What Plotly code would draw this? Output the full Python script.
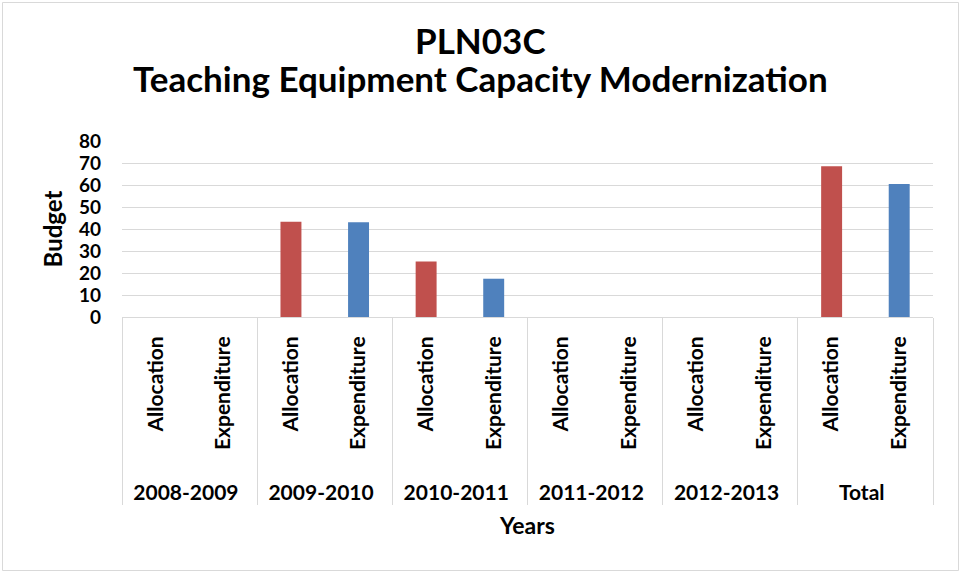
import plotly.graph_objects as go

# Budget figures per fiscal year (millions), with the running total
years = ["2008-2009", "2009-2010", "2010-2011", "2011-2012", "2012-2013", "Total"]
allocation = [0, 43.3, 25.2, 0, 0, 68.5]
expenditure = [0, 43.1, 17.4, 0, 0, 60.5]
y_ticks = [0, 10, 20, 30, 40, 50, 60, 70, 80]
title_lines = ["PLN03C", "Teaching Equipment Capacity Modernization"]

RED = "#C0504D"
BLUE = "#4F81BD"
GRID = "#D9D9D9"
FONT = "Lato"

# Plot-area geometry in pixels
W, H = 961, 574
ML, MR, MT, MB = 122, 28, 141, 257
PW, PH = W - ML - MR, H - MT - MB


def px_x(p):
    return (p - ML) / PW


def px_y(p):
    return (MT + PH - p) / PH


def bold(s):
    return f"<b>{s}</b>"


# rotated series labels get a little non-breaking padding at their lower end,
# which leaves a gap above the year row
PAD = "\u00a0" * 4
year_labels = [bold(y) for y in years]
alloc_label = bold(PAD + "Allocation")
exp_label = bold(PAD + "Expenditure")

fig = go.Figure()
fig.add_trace(go.Bar(
    x=[year_labels, [alloc_label] * len(years)],
    y=allocation,
    name="Allocation",
    marker=dict(color=RED, line=dict(width=0)),
    width=0.31,
))
fig.add_trace(go.Bar(
    x=[year_labels, [exp_label] * len(years)],
    y=expenditure,
    name="Expenditure",
    marker=dict(color=BLUE, line=dict(width=0)),
    width=0.31,
))

# thin frame around the whole chart
fig.add_shape(type="rect", xref="paper", yref="paper",
              x0=px_x(2.5), x1=px_x(958.5), y0=px_y(570.5), y1=px_y(2.5),
              line=dict(color=GRID, width=1), layer="below")

# two-line chart title
for text, yc in zip(title_lines, [40, 78]):
    fig.add_annotation(
        text=bold(text), xref="paper", yref="paper",
        x=px_x(W / 2), y=px_y(yc), xanchor="center", yanchor="middle",
        showarrow=False, font=dict(family=FONT, size=35, color="black"),
    )

fig.update_layout(
    width=W, height=H,
    margin=dict(l=ML, r=MR, t=MT, b=MB),
    paper_bgcolor="white", plot_bgcolor="white",
    barmode="overlay",
    showlegend=False,
    font=dict(family=FONT, color="black"),
    xaxis=dict(
        type="multicategory",
        tickangle=-90,
        tickfont=dict(family=FONT, size=21, color="black", weight="bold"),
        ticklabelstandoff=10,
        showdividers=True, dividercolor=GRID, dividerwidth=1,
        showline=True, linecolor=GRID, linewidth=1,
        showgrid=False, ticks="",
        title=dict(text="<b>Years</b>", font=dict(family=FONT, size=23, color="black"), standoff=14),
    ),
    yaxis=dict(
        range=[0, 80], tickvals=y_ticks,
        showgrid=True, gridcolor=GRID, gridwidth=1,
        zeroline=False, showline=False, ticks="",
        tickfont=dict(family=FONT, size=19, color="black", weight="bold"),
        ticklabelstandoff=20,
        title=dict(text="<b>Budget</b>", font=dict(family=FONT, size=24, color="black"), standoff=9),
    ),
)

fig.write_html("out.html")
